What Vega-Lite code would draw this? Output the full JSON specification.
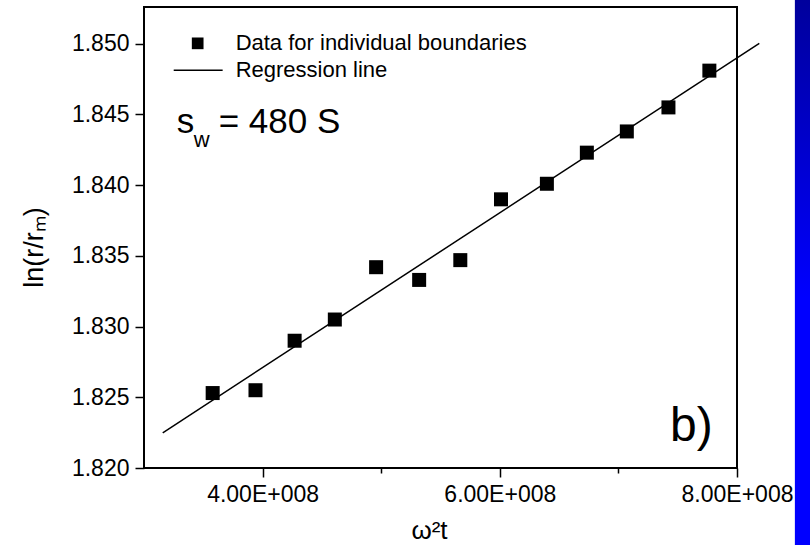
{
  "$schema": "https://vega.github.io/schema/vega-lite/v6.json",
  "autosize": "none",
  "width": 593,
  "height": 461,
  "padding": {"left": 144, "top": 7, "right": 73, "bottom": 77},
  "background": "white",
  "config": {
    "view": {"stroke": "black", "strokeWidth": 2},
    "font": "Liberation Sans"
  },
  "datasets": {
    "points": [
      {"w2t": 357900000, "lnr": 1.8253},
      {"w2t": 394000000, "lnr": 1.8255},
      {"w2t": 427000000, "lnr": 1.8290},
      {"w2t": 460900000, "lnr": 1.8305},
      {"w2t": 495700000, "lnr": 1.8342},
      {"w2t": 532000000, "lnr": 1.8333},
      {"w2t": 566700000, "lnr": 1.8347},
      {"w2t": 601000000, "lnr": 1.8390},
      {"w2t": 639700000, "lnr": 1.8401},
      {"w2t": 673400000, "lnr": 1.8423},
      {"w2t": 707100000, "lnr": 1.8438},
      {"w2t": 742200000, "lnr": 1.8455},
      {"w2t": 776700000, "lnr": 1.8481}
    ],
    "fit": [
      {"w2t": 315800000, "lnr": 1.82249},
      {"w2t": 818800000, "lnr": 1.85003}
    ],
    "bar": [
      {"x": 848800000, "x2": 870000000, "y": 1.8140, "y2": 1.8540}
    ],
    "legendText": [
      {"x": 377260000, "y": 1.85003, "label": "Data for individual boundaries"},
      {"x": 377260000, "y": 1.84812, "label": "Regression line"}
    ],
    "legendSym": [
      {"x": 345260000, "y": 1.85003}
    ],
    "legendLine": [
      {"x": 325050000, "y": 1.84812},
      {"x": 366320000, "y": 1.84812}
    ],
    "sBig": [
      {"x": 327580000, "y": 1.84369, "label": "s"},
      {"x": 362950000, "y": 1.84369, "label": "= 480 S"}
    ],
    "sSub": [
      {"x": 341900000, "y": 1.84273, "label": "w"}
    ],
    "panel": [
      {"x": 743600000, "y": 1.82189, "label": "b)"}
    ]
  },
  "layer": [
    {
      "data": {"name": "bar"},
      "mark": {
        "type": "rect",
        "clip": false,
        "color": {
          "gradient": "linear", "x1": 0, "y1": 0, "x2": 0, "y2": 1,
          "stops": [
            {"offset": 0, "color": "#000098"},
            {"offset": 0.55, "color": "#0000ff"},
            {"offset": 1, "color": "#0000ff"}
          ]
        }
      },
      "encoding": {
        "x": {"field": "x", "type": "quantitative"},
        "x2": {"field": "x2"},
        "y": {"field": "y", "type": "quantitative"},
        "y2": {"field": "y2"}
      }
    },
    {
      "data": {"name": "fit"},
      "mark": {"type": "line", "color": "black", "strokeWidth": 1.5, "clip": false},
      "encoding": {
        "x": {
          "field": "w2t", "type": "quantitative",
          "scale": {"domain": [300000000, 800000000], "nice": false, "zero": false},
          "axis": {
            "title": "ω²t",
            "titleFont": "Liberation Sans",
            "titleFontSize": 26,
            "titleFontWeight": "normal",
            "titleColor": "black",
            "titlePadding": 11,
            "titleAnchor": "start",
            "titleAlign": "center",
            "titleX": 285,
            "values": [400000000, 500000000, 600000000, 700000000, 800000000],
            "labelExpr": "datum.value % 200000000 == 0 ? format(datum.value/100000000, '.2f') + 'E+008' : ''",
            "labelFont": "Liberation Sans",
            "labelFontSize": 23,
            "labelColor": "black",
            "labelPadding": 6,
            "labelFlush": false,
            "labelOverlap": false,
            "domain": false,
            "grid": false,
            "tickColor": "black",
            "tickWidth": 1.5,
            "tickSize": {"condition": {"test": "datum.value % 200000000 == 0", "value": 9}, "value": 5}
          }
        },
        "y": {
          "field": "lnr", "type": "quantitative",
          "scale": {"domain": [1.82, 1.8526], "nice": false, "zero": false},
          "axis": {
            "title": "ln(r/rₘ)",
            "titleFont": "Liberation Sans",
            "titleFontSize": 27,
            "titleFontWeight": "normal",
            "titleColor": "black",
            "titlePadding": 23,
            "titleAnchor": "start",
            "titleAlign": "center",
            "titleY": 240,
            "values": [1.82, 1.8225, 1.825, 1.8275, 1.83, 1.8325, 1.835, 1.8375, 1.84, 1.8425, 1.845, 1.8475, 1.85],
            "labelExpr": "abs(datum.value*200 - round(datum.value*200)) < 0.001 ? format(datum.value, '.3f') : ''",
            "labelFont": "Liberation Sans",
            "labelFontSize": 23,
            "labelColor": "black",
            "labelPadding": 6,
            "labelFlush": false,
            "labelOverlap": false,
            "domain": false,
            "grid": false,
            "tickColor": "black",
            "tickWidth": 1.5,
            "tickSize": {"condition": {"test": "abs(datum.value*200 - round(datum.value*200)) < 0.001", "value": 9}, "value": 5}
          }
        }
      }
    },
    {
      "data": {"name": "points"},
      "mark": {"type": "point", "shape": "square", "filled": true, "color": "black", "size": 196, "opacity": 1},
      "encoding": {
        "x": {"field": "w2t", "type": "quantitative"},
        "y": {"field": "lnr", "type": "quantitative"}
      }
    },
    {
      "data": {"name": "legendSym"},
      "mark": {"type": "point", "shape": "square", "filled": true, "color": "black", "size": 137, "opacity": 1},
      "encoding": {
        "x": {"field": "x", "type": "quantitative"},
        "y": {"field": "y", "type": "quantitative"}
      }
    },
    {
      "data": {"name": "legendLine"},
      "mark": {"type": "line", "color": "black", "strokeWidth": 1.5},
      "encoding": {
        "x": {"field": "x", "type": "quantitative"},
        "y": {"field": "y", "type": "quantitative"}
      }
    },
    {
      "data": {"name": "legendText"},
      "mark": {"type": "text", "align": "left", "baseline": "middle", "fontSize": 22, "font": "Liberation Sans", "color": "black"},
      "encoding": {
        "x": {"field": "x", "type": "quantitative"},
        "y": {"field": "y", "type": "quantitative"},
        "text": {"field": "label"}
      }
    },
    {
      "data": {"name": "sBig"},
      "mark": {"type": "text", "align": "left", "baseline": "alphabetic", "fontSize": 35, "font": "Liberation Sans", "color": "black"},
      "encoding": {
        "x": {"field": "x", "type": "quantitative"},
        "y": {"field": "y", "type": "quantitative"},
        "text": {"field": "label"}
      }
    },
    {
      "data": {"name": "sSub"},
      "mark": {"type": "text", "align": "left", "baseline": "alphabetic", "fontSize": 22, "font": "Liberation Sans", "color": "black"},
      "encoding": {
        "x": {"field": "x", "type": "quantitative"},
        "y": {"field": "y", "type": "quantitative"},
        "text": {"field": "label"}
      }
    },
    {
      "data": {"name": "panel"},
      "mark": {"type": "text", "align": "left", "baseline": "alphabetic", "fontSize": 48, "font": "Liberation Sans", "color": "black"},
      "encoding": {
        "x": {"field": "x", "type": "quantitative"},
        "y": {"field": "y", "type": "quantitative"},
        "text": {"field": "label"}
      }
    }
  ]
}
